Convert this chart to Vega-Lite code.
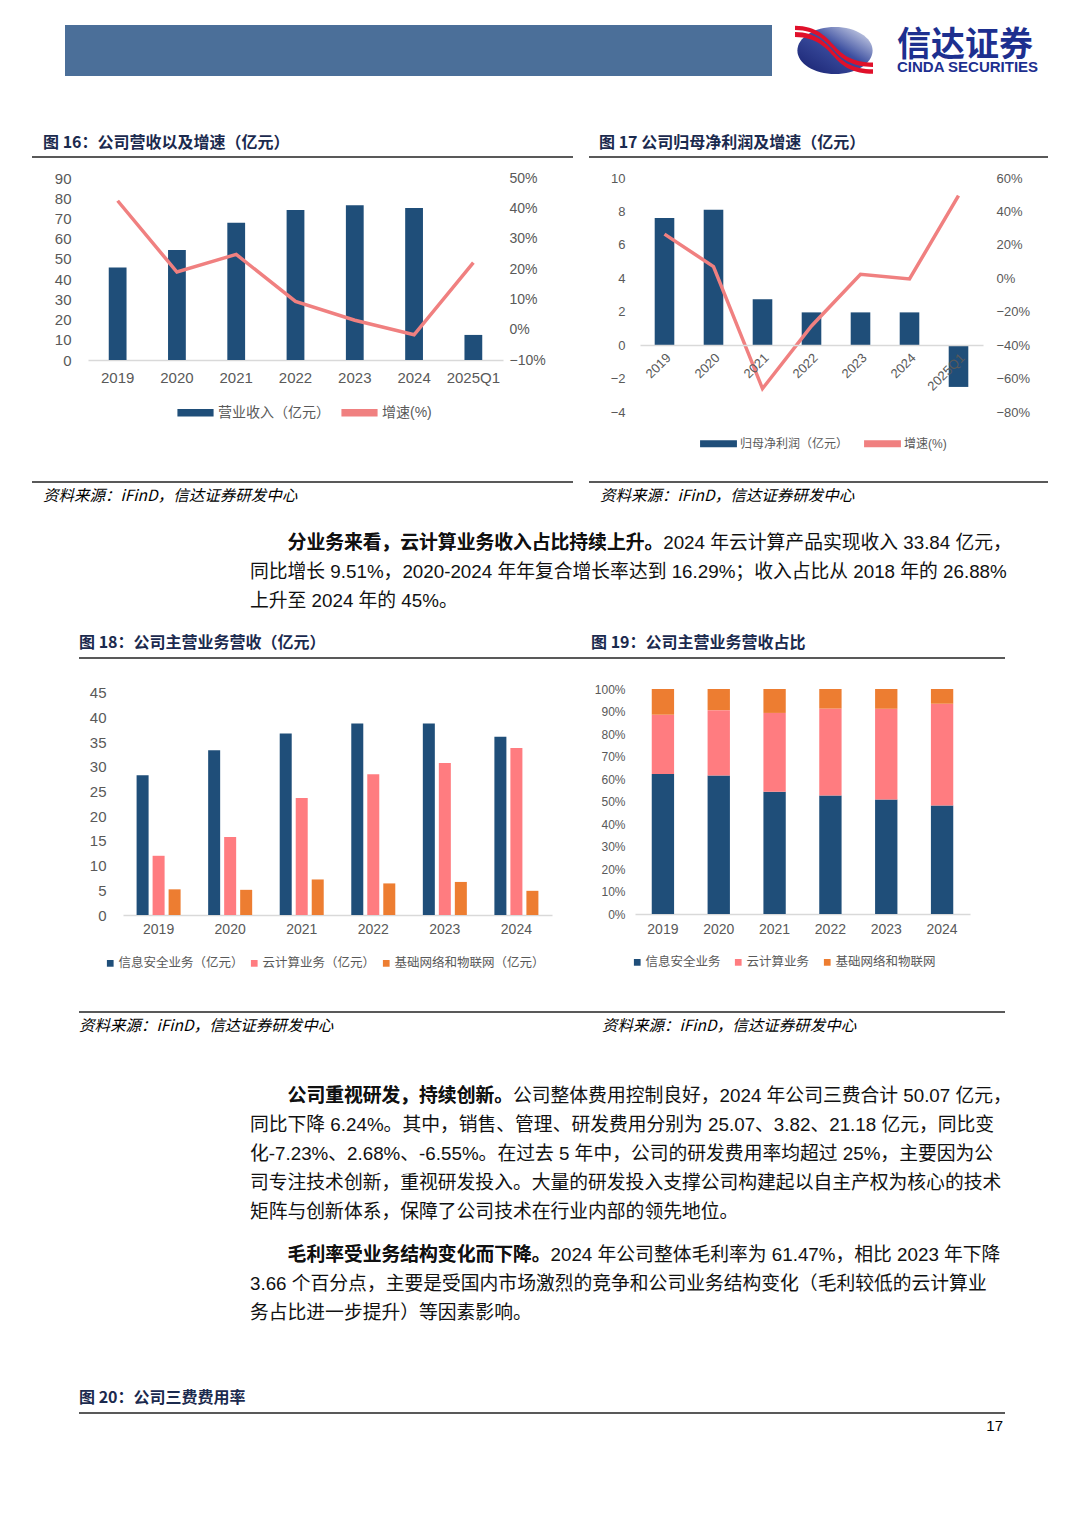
{
  "$schema": "https://vega.github.io/schema/vega-lite/v6.json",
  "padding": {"left": 32, "top": 25, "right": 10, "bottom": 10},
  "background": "white",
  "datasets": {
    "rev": [
      {"period": "2019", "revenue": 45.7, "growth": 0.425},
      {"period": "2020", "revenue": 54.4, "growth": 0.19},
      {"period": "2021", "revenue": 67.9, "growth": 0.248},
      {"period": "2022", "revenue": 74.2, "growth": 0.093},
      {"period": "2023", "revenue": 76.5, "growth": 0.031},
      {"period": "2024", "revenue": 75.2, "growth": -0.017},
      {"period": "2025Q1", "revenue": 12.4, "growth": 0.221}
    ],
    "np": [
      {"period": "2019", "profit": 7.6, "growth": 0.264},
      {"period": "2020", "profit": 8.1, "growth": 0.07},
      {"period": "2021", "profit": 2.74, "growth": -0.66},
      {"period": "2022", "profit": 1.96, "growth": -0.285},
      {"period": "2023", "profit": 1.96, "growth": 0.024},
      {"period": "2024", "profit": 1.96, "growth": -0.004},
      {"period": "2025Q1", "profit": -2.5, "growth": 0.494}
    ],
    "biz": [
      {"year": "2019", "seg": "信息安全业务", "k": 1, "value": 28.3},
      {"year": "2020", "seg": "信息安全业务", "k": 1, "value": 33.4},
      {"year": "2021", "seg": "信息安全业务", "k": 1, "value": 36.8},
      {"year": "2022", "seg": "信息安全业务", "k": 1, "value": 38.8},
      {"year": "2023", "seg": "信息安全业务", "k": 1, "value": 38.8},
      {"year": "2024", "seg": "信息安全业务", "k": 1, "value": 36.1},
      {"year": "2019", "seg": "云计算业务", "k": 2, "value": 12.0},
      {"year": "2020", "seg": "云计算业务", "k": 2, "value": 15.8},
      {"year": "2021", "seg": "云计算业务", "k": 2, "value": 23.7},
      {"year": "2022", "seg": "云计算业务", "k": 2, "value": 28.5},
      {"year": "2023", "seg": "云计算业务", "k": 2, "value": 30.8},
      {"year": "2024", "seg": "云计算业务", "k": 2, "value": 33.84},
      {"year": "2019", "seg": "基础网络和物联网", "k": 3, "value": 5.2},
      {"year": "2020", "seg": "基础网络和物联网", "k": 3, "value": 5.1},
      {"year": "2021", "seg": "基础网络和物联网", "k": 3, "value": 7.2},
      {"year": "2022", "seg": "基础网络和物联网", "k": 3, "value": 6.4},
      {"year": "2023", "seg": "基础网络和物联网", "k": 3, "value": 6.7},
      {"year": "2024", "seg": "基础网络和物联网", "k": 3, "value": 4.9}
    ]
  },
  "vconcat": [
    {
      "hconcat": [
        {"width": 33, "height": 51, "data": {"values": [{}]}, "mark": {"type": "text", "text": ""}},
        {"width": 707, "height": 51, "data": {"values": [{}]}, "mark": {"type": "text", "text": ""}, "view": {"fill": "#4B6F99", "stroke": null}},
        {"width": 23, "height": 51, "data": {"values": [{}]}, "mark": {"type": "text", "text": ""}},
        {
          "width": 80, "height": 51,
          "layer": [
            {"data": {"values": [{}]}, "mark": {"type": "point", "filled": true, "opacity": 1, "size": 6400, "strokeWidth": 0,
              "shape": "M-0.94,0 A0.94,0.59 0 1,0 0.94,0 A0.94,0.59 0 1,0 -0.94,0 Z",
              "color": {"gradient": "linear", "x1": 1, "y1": 0, "x2": 0, "y2": 1, "stops": [{"offset": 0, "color": "#E9ECF6"}, {"offset": 0.45, "color": "#3C4FA0"}, {"offset": 1, "color": "#17206F"}]}}, "encoding": {}},
            {"data": {"values": [{}]}, "mark": {"type": "point", "filled": true, "opacity": 1, "size": 6400, "strokeWidth": 0, "color": "#E0102A",
              "shape": "M-1,-0.62 C-0.45,-0.62 -0.2,-0.32 0,-0.1 C0.2,0.12 0.45,0.3 0.95,0.3 L0.95,0.41 C0.45,0.41 0.2,0.24 0,0.02 C-0.2,-0.2 -0.45,-0.51 -1,-0.51 Z M-1,-0.46 C-0.45,-0.46 -0.2,-0.15 0,0.07 C0.2,0.29 0.45,0.47 0.95,0.47 L0.95,0.58 C0.45,0.58 0.2,0.4 0,0.18 C-0.2,-0.04 -0.45,-0.34 -1,-0.34 Z"}, "encoding": {}}
          ]
        },
        {"width": 22, "height": 51, "data": {"values": [{}]}, "mark": {"type": "text", "text": ""}},
        {"width": 151, "height": 51, "data": {"values": [{}]}, "mark": {"type": "text", "text": ""},
          "title": {"text": "信达证券", "subtitle": "CINDA SECURITIES", "orient": "top", "anchor": "start", "offset": -50,
            "font": "Noto Sans CJK SC", "fontSize": 34, "fontWeight": "bold", "color": "#1D2F8F",
            "subtitleFont": "Liberation Sans", "subtitleFontSize": 15, "subtitleFontWeight": "bold", "subtitleColor": "#1D2F8F", "subtitlePadding": -3}}
      ],
      "spacing": 0, "bounds": "flush"
    },
    {"width": 1, "height": 59, "data": {"values": [{}]}, "mark": {"type": "text", "text": ""}},
    {
      "hconcat": [
        {"width": 541, "height": 2, "data": {"values": [{}]}, "mark": {"type": "text", "text": ""}, "view": {"fill": "#595959", "stroke": null},
          "title": {"text": "图 16：公司营收以及增速（亿元）", "anchor": "start", "dx": 11, "offset": 0}},
        {"width": 16, "height": 2, "data": {"values": [{}]}, "mark": {"type": "text", "text": ""}},
        {"width": 459, "height": 2, "data": {"values": [{}]}, "mark": {"type": "text", "text": ""}, "view": {"fill": "#595959", "stroke": null},
          "title": {"text": "图 17 公司归母净利润及增速（亿元）", "anchor": "start", "dx": 10, "offset": 0}}
      ],
      "spacing": 0, "bounds": "flush"
    },
    {"width": 1, "height": 9, "data": {"values": [{}]}, "mark": {"type": "text", "text": "", "fontSize": 1}},
    {
      "hconcat": [
        {"width": 56, "height": 1, "data": {"values": [{}]}, "mark": {"type": "text", "text": "", "fontSize": 1}},
        {
          "width": 415, "height": 182,
          "data": {"name": "rev"},
          "encoding": {
            "x": {"field": "period", "type": "nominal", "sort": null, "scale": {"paddingInner": 0.7, "paddingOuter": 0.35},
              "axis": {"title": null, "labelAngle": 0, "ticks": false, "domainColor": "#D9D9D9", "domainWidth": 1.5, "labelFontSize": 15, "labelColor": "#595959", "labelPadding": 10}}
          },
          "layer": [
            {
              "mark": {"type": "bar"},
              "encoding": {
                "y": {"field": "revenue", "type": "quantitative", "scale": {"domain": [0, 90], "nice": false},
                  "axis": {"title": null, "values": [0, 10, 20, 30, 40, 50, 60, 70, 80, 90], "grid": false, "ticks": false, "domain": false, "labelFontSize": 15, "labelColor": "#595959", "labelPadding": 17}},
                "color": {"datum": "营业收入（亿元）", "type": "nominal",
                  "scale": {"domain": ["营业收入（亿元）", "增速(%)"], "range": ["#1F4E79", "#F08080"]},
                  "legend": {"orient": "none", "legendX": 89, "legendY": 216, "direction": "horizontal", "title": null,
                    "symbolType": "M-1,-0.18H1V0.18H-1Z", "symbolSize": 1200, "labelFontSize": 14, "labelColor": "#595959", "columnPadding": 9, "labelOffset": 4}}
              }
            },
            {
              "mark": {"type": "line", "strokeWidth": 3.5},
              "encoding": {
                "y": {"field": "growth", "type": "quantitative", "scale": {"domain": [-0.1, 0.5], "nice": false},
                  "axis": {"orient": "right", "title": null, "format": ".0%", "values": [-0.1, 0, 0.1, 0.2, 0.3, 0.4, 0.5], "grid": false, "ticks": false, "domain": false, "labelFontSize": 14, "labelColor": "#595959", "labelPadding": 6}},
                "color": {"datum": "增速(%)", "type": "nominal"}
              }
            }
          ],
          "resolve": {"scale": {"y": "independent"}}
        },
        {"width": 137, "height": 1, "data": {"values": [{}]}, "mark": {"type": "text", "text": "", "fontSize": 1}},
        {
          "width": 343, "height": 234,
          "data": {"name": "np"},
          "encoding": {
            "x": {"field": "period", "type": "nominal", "sort": null, "scale": {"paddingInner": 0.6, "paddingOuter": 0.3},
              "axis": {"title": null, "labelAngle": -45, "ticks": false, "offset": -66.9, "zindex": 1, "domainColor": "#D9D9D9", "domainWidth": 1.5, "labelFontSize": 13, "labelColor": "#595959", "labelPadding": 6}}
          },
          "layer": [
            {
              "mark": {"type": "bar"},
              "encoding": {
                "y": {"field": "profit", "type": "quantitative", "scale": {"domain": [-4, 10], "nice": false},
                  "axis": {"title": null, "values": [-4, -2, 0, 2, 4, 6, 8, 10], "grid": false, "ticks": false, "domain": false, "labelFontSize": 13, "labelColor": "#595959", "labelPadding": 15}},
                "color": {"datum": "归母净利润（亿元）", "type": "nominal",
                  "scale": {"domain": ["归母净利润（亿元）", "增速(%)"], "range": ["#1F4E79", "#F08080"]},
                  "legend": {"orient": "none", "legendX": 60, "legendY": 247, "direction": "horizontal", "title": null,
                    "symbolType": "M-1,-0.16H1V0.16H-1Z", "symbolSize": 1250, "labelFontSize": 12, "labelColor": "#595959", "columnPadding": 12, "labelOffset": 3}}
              }
            },
            {
              "mark": {"type": "line", "strokeWidth": 3.5},
              "encoding": {
                "y": {"field": "growth", "type": "quantitative", "scale": {"domain": [-0.8, 0.6], "nice": false},
                  "axis": {"orient": "right", "title": null, "format": ".0%", "values": [-0.8, -0.6, -0.4, -0.2, 0, 0.2, 0.4, 0.6], "grid": false, "ticks": false, "domain": false, "labelFontSize": 13, "labelColor": "#595959", "labelPadding": 13}},
                "color": {"datum": "增速(%)", "type": "nominal"}
              }
            }
          ],
          "resolve": {"scale": {"y": "independent"}}
        }
      ],
      "spacing": 0, "bounds": "flush",
      "resolve": {"scale": {"color": "independent"}, "legend": {"color": "independent"}}
    },
    {"width": 1, "height": 26, "data": {"values": [{}]}, "mark": {"type": "text", "text": ""}},
    {
      "hconcat": [
        {"width": 541, "height": 2, "data": {"values": [{}]}, "mark": {"type": "text", "text": ""}, "view": {"fill": "#595959", "stroke": null},
          "title": {"text": "资料来源：iFinD，信达证券研发中心", "orient": "bottom", "anchor": "start", "dx": 11, "offset": 2, "fontSize": 15.5, "fontStyle": "italic", "fontWeight": "normal", "color": "#000000"}},
        {"width": 16, "height": 2, "data": {"values": [{}]}, "mark": {"type": "text", "text": ""}},
        {"width": 459, "height": 2, "data": {"values": [{}]}, "mark": {"type": "text", "text": ""}, "view": {"fill": "#595959", "stroke": null},
          "title": {"text": "资料来源：iFinD，信达证券研发中心", "orient": "bottom", "anchor": "start", "dx": 11, "offset": 2, "fontSize": 15.5, "fontStyle": "italic", "fontWeight": "normal", "color": "#000000"}}
      ],
      "spacing": 0, "bounds": "flush"
    },
    {"width": 1, "height": 28, "data": {"values": [{}]}, "mark": {"type": "text", "text": ""}},
    {
      "width": 436, "height": 2,
      "layer": [
        {"data": {"values": [{"p": "分业务来看，云计算业务收入占比持续上升。2024 年云计算产品实现收入 33.84 亿元，"}]},
          "mark": {"type": "text", "align": "left", "baseline": "top", "fontSize": 18.8, "dx": 37.6, "color": "#111111"},
          "encoding": {"text": {"field": "p"}}},
        {"data": {"values": [{"p": "分业务来看，云计算业务收入占比持续上升。"}]},
          "mark": {"type": "text", "align": "left", "baseline": "top", "fontSize": 18.8, "dx": 37.6, "fontWeight": "bold", "color": "#111111"},
          "encoding": {"text": {"field": "p"}}},
        {"data": {"values": [{"p": "同比增长 9.51%，2020-2024 年年复合增长率达到 16.29%；收入占比从 2018 年的 26.88%\n上升至 2024 年的 45%。"}]},
          "mark": {"type": "text", "align": "left", "baseline": "top", "fontSize": 18.8, "lineHeight": 29, "lineBreak": "\n", "dy": 29, "color": "#111111"},
          "encoding": {"text": {"field": "p"}}}
      ]
    },
    {"width": 1, "height": 24, "data": {"values": [{}]}, "mark": {"type": "text", "text": ""}},
    {
      "hconcat": [
        {"width": 47, "height": 2, "data": {"values": [{}]}, "mark": {"type": "text", "text": ""}},
        {"width": 512, "height": 2, "data": {"values": [{}]}, "mark": {"type": "text", "text": ""}, "view": {"fill": "#595959", "stroke": null},
          "title": {"text": "图 18：公司主营业务营收（亿元）", "anchor": "start", "offset": 1}},
        {"width": 414, "height": 2, "data": {"values": [{}]}, "mark": {"type": "text", "text": ""}, "view": {"fill": "#595959", "stroke": null},
          "title": {"text": "图 19：公司主营业务营收占比", "anchor": "start", "offset": 1}}
      ],
      "spacing": 0, "bounds": "flush"
    },
    {"width": 1, "height": 20, "data": {"values": [{}]}, "mark": {"type": "text", "text": ""}},
    {
      "hconcat": [
        {"width": 91, "height": 1, "data": {"values": [{}]}, "mark": {"type": "text", "text": "", "fontSize": 1}},
        {
          "width": 429, "height": 226,
          "data": {"name": "biz"},
          "mark": {"type": "bar"},
          "encoding": {
            "x": {"field": "year", "type": "nominal", "scale": {"paddingInner": 0.385, "paddingOuter": 0.19},
              "axis": {"title": null, "labelAngle": 0, "ticks": false, "domainColor": "#D9D9D9", "domainWidth": 1.5, "labelFontSize": 14, "labelColor": "#595959", "labelPadding": 7}},
            "xOffset": {"field": "seg", "type": "nominal", "sort": ["信息安全业务", "云计算业务", "基础网络和物联网"], "scale": {"paddingInner": 0.25, "paddingOuter": 0}},
            "y": {"field": "value", "type": "quantitative", "scale": {"domain": [0, 45.8], "nice": false},
              "axis": {"title": null, "values": [0, 5, 10, 15, 20, 25, 30, 35, 40, 45], "grid": false, "ticks": false, "domain": false, "labelFontSize": 15, "labelColor": "#595959", "labelPadding": 17}},
            "color": {"field": "seg", "type": "nominal", "sort": ["信息安全业务", "云计算业务", "基础网络和物联网"],
              "scale": {"domain": ["信息安全业务", "云计算业务", "基础网络和物联网"], "range": ["#1F4E79", "#FF7C80", "#ED7D31"]},
              "legend": {"orient": "none", "legendX": -19, "legendY": 268, "direction": "horizontal", "title": null, "symbolType": "square", "symbolSize": 45,
                "labelExpr": "datum.label + '（亿元）'", "labelFontSize": 12.5, "labelColor": "#595959", "columnPadding": 4, "labelOffset": 2}}
          }
        },
        {"width": 83, "height": 1, "data": {"values": [{}]}, "mark": {"type": "text", "text": "", "fontSize": 1}},
        {
          "width": 335, "height": 225,
          "data": {"name": "biz"},
          "mark": {"type": "bar"},
          "encoding": {
            "x": {"field": "year", "type": "nominal", "scale": {"paddingInner": 0.6, "paddingOuter": 0.3},
              "axis": {"title": null, "labelAngle": 0, "ticks": false, "domainColor": "#D9D9D9", "domainWidth": 1.5, "labelFontSize": 14, "labelColor": "#595959", "labelPadding": 8}},
            "y": {"field": "value", "type": "quantitative", "stack": "normalize", "scale": {"domain": [0, 1], "nice": false},
              "axis": {"title": null, "format": ".0%", "values": [0, 0.1, 0.2, 0.3, 0.4, 0.5, 0.6, 0.7, 0.8, 0.9, 1], "grid": false, "ticks": false, "domain": false, "labelFontSize": 12, "labelColor": "#595959", "labelPadding": 10}},
            "order": {"field": "k", "type": "quantitative", "sort": "ascending"},
            "color": {"field": "seg", "type": "nominal", "sort": ["信息安全业务", "云计算业务", "基础网络和物联网"],
              "scale": {"domain": ["信息安全业务", "云计算业务", "基础网络和物联网"], "range": ["#1F4E79", "#FF7C80", "#ED7D31"]},
              "legend": {"orient": "none", "legendX": -4, "legendY": 267, "direction": "horizontal", "title": null, "symbolType": "square", "symbolSize": 45,
                "labelFontSize": 12.5, "labelColor": "#595959", "columnPadding": 11, "labelOffset": 2}}
          }
        }
      ],
      "spacing": 0, "bounds": "flush",
      "resolve": {"scale": {"color": "independent"}, "legend": {"color": "independent"}}
    },
    {"width": 1, "height": 36, "data": {"values": [{}]}, "mark": {"type": "text", "text": ""}},
    {
      "hconcat": [
        {"width": 47, "height": 2, "data": {"values": [{}]}, "mark": {"type": "text", "text": ""}},
        {"width": 523, "height": 2, "data": {"values": [{}]}, "mark": {"type": "text", "text": ""}, "view": {"fill": "#595959", "stroke": null},
          "title": {"text": "资料来源：iFinD，信达证券研发中心", "orient": "bottom", "anchor": "start", "offset": 2, "fontSize": 15.5, "fontStyle": "italic", "fontWeight": "normal", "color": "#000000"}},
        {"width": 403, "height": 2, "data": {"values": [{}]}, "mark": {"type": "text", "text": ""}, "view": {"fill": "#595959", "stroke": null},
          "title": {"text": "资料来源：iFinD，信达证券研发中心", "orient": "bottom", "anchor": "start", "offset": 2, "fontSize": 15.5, "fontStyle": "italic", "fontWeight": "normal", "color": "#000000"}}
      ],
      "spacing": 0, "bounds": "flush"
    },
    {"width": 1, "height": 51, "data": {"values": [{}]}, "mark": {"type": "text", "text": ""}},
    {
      "width": 436, "height": 2,
      "layer": [
        {"data": {"values": [{"p": "公司重视研发，持续创新。公司整体费用控制良好，2024 年公司三费合计 50.07 亿元，"}]},
          "mark": {"type": "text", "align": "left", "baseline": "top", "fontSize": 18.8, "dx": 37.6, "color": "#111111"},
          "encoding": {"text": {"field": "p"}}},
        {"data": {"values": [{"p": "公司重视研发，持续创新。"}]},
          "mark": {"type": "text", "align": "left", "baseline": "top", "fontSize": 18.8, "dx": 37.6, "fontWeight": "bold", "color": "#111111"},
          "encoding": {"text": {"field": "p"}}},
        {"data": {"values": [{"p": "同比下降 6.24%。其中，销售、管理、研发费用分别为 25.07、3.82、21.18 亿元，同比变\n化-7.23%、2.68%、-6.55%。在过去 5 年中，公司的研发费用率均超过 25%，主要因为公\n司专注技术创新，重视研发投入。大量的研发投入支撑公司构建起以自主产权为核心的技术\n矩阵与创新体系，保障了公司技术在行业内部的领先地位。"}]},
          "mark": {"type": "text", "align": "left", "baseline": "top", "fontSize": 18.8, "lineHeight": 29, "lineBreak": "\n", "dy": 29, "color": "#111111"},
          "encoding": {"text": {"field": "p"}}}
      ]
    },
    {"width": 1, "height": 23, "data": {"values": [{}]}, "mark": {"type": "text", "text": ""}},
    {
      "width": 436, "height": 2,
      "layer": [
        {"data": {"values": [{"p": "毛利率受业务结构变化而下降。2024 年公司整体毛利率为 61.47%，相比 2023 年下降"}]},
          "mark": {"type": "text", "align": "left", "baseline": "top", "fontSize": 18.8, "dx": 37.6, "color": "#111111"},
          "encoding": {"text": {"field": "p"}}},
        {"data": {"values": [{"p": "毛利率受业务结构变化而下降。"}]},
          "mark": {"type": "text", "align": "left", "baseline": "top", "fontSize": 18.8, "dx": 37.6, "fontWeight": "bold", "color": "#111111"},
          "encoding": {"text": {"field": "p"}}},
        {"data": {"values": [{"p": "3.66 个百分点，主要是受国内市场激烈的竞争和公司业务结构变化（毛利较低的云计算业\n务占比进一步提升）等因素影响。"}]},
          "mark": {"type": "text", "align": "left", "baseline": "top", "fontSize": 18.8, "lineHeight": 29, "lineBreak": "\n", "dy": 29, "color": "#111111"},
          "encoding": {"text": {"field": "p"}}}
      ]
    },
    {"width": 1, "height": 67, "data": {"values": [{}]}, "mark": {"type": "text", "text": ""}},
    {
      "hconcat": [
        {"width": 47, "height": 2, "data": {"values": [{}]}, "mark": {"type": "text", "text": ""}},
        {"width": 620, "height": 2, "data": {"values": [{}]}, "mark": {"type": "text", "text": ""}, "view": {"fill": "#595959", "stroke": null},
          "title": {"text": "图 20：公司三费费用率", "anchor": "start", "offset": 1}},
        {"width": 306, "height": 2, "data": {"values": [{}]}, "mark": {"type": "text", "text": ""}, "view": {"fill": "#595959", "stroke": null},
          "title": {"text": "17", "orient": "bottom", "anchor": "end", "dx": -2, "offset": 1, "fontSize": 15, "fontWeight": "normal", "color": "#000000", "font": "Liberation Sans"}}
      ],
      "spacing": 0, "bounds": "flush"
    }
  ],
  "spacing": 0,
  "resolve": {"scale": {"color": "independent"}, "legend": {"color": "independent"}},
  "config": {
    "view": {"stroke": null},
    "font": "Liberation Sans, Noto Sans CJK SC, sans-serif",
    "title": {"font": "Noto Sans CJK SC", "fontSize": 16, "fontWeight": "bold", "color": "#1B2A4E"},
    "axis": {"labelFont": "Liberation Sans, Noto Sans CJK SC"},
    "legend": {"labelFont": "Liberation Sans, Noto Sans CJK SC"},
    "text": {"font": "Liberation Sans, Noto Sans CJK SC"}
  }
}
